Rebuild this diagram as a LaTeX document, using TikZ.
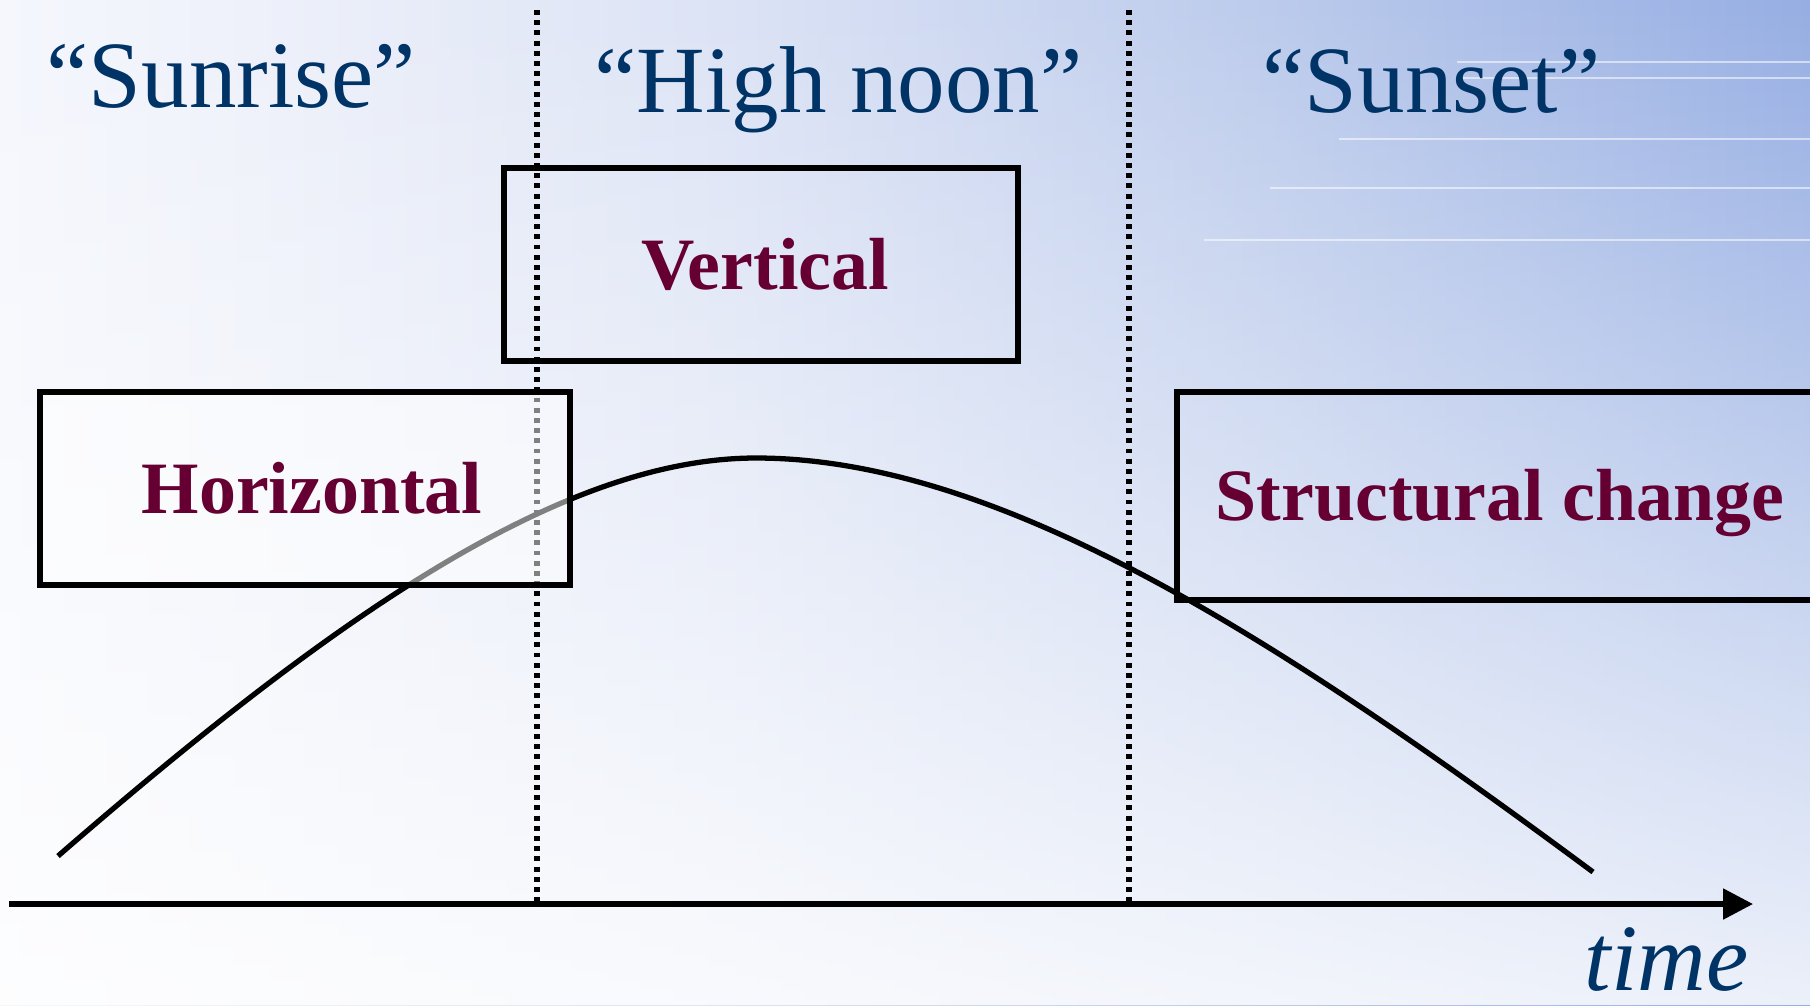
\documentclass[tikz,border=0pt]{standalone}
\usepackage{fontspec}
\setmainfont{Liberation Serif}
\usetikzlibrary{arrows.meta,shadings,fadings}
\definecolor{titleblue}{HTML}{003366}
\definecolor{labelred}{HTML}{660033}
\definecolor{bgA}{HTML}{F5F7FD}
\definecolor{bgB}{HTML}{EEF1FA}
\definecolor{bgC}{HTML}{DCE3F5}
\definecolor{bgD}{HTML}{BCCBEC}
\definecolor{bgE}{HTML}{96AEE3}
\pgfdeclarehorizontalshading{bgh}{100bp}{color(0bp)=(bgA); color(25bp)=(bgA); color(32bp)=(bgB); color(45bp)=(bgC); color(60bp)=(bgD); color(75bp)=(bgE); color(100bp)=(bgE)}
\tikzfading[name=fadedown, top color=transparent!100, middle color=transparent!62, bottom color=transparent!18]
\tikzset{
  title/.style={font=\fontsize{27pt}{30pt}\selectfont, text=titleblue, inner sep=0pt, anchor=base west},
  box/.style={draw=black, line width=1.7pt, font=\fontsize{21pt}{24pt}\selectfont\bfseries,
              text=labelred, text height=14pt, text depth=0pt, inner sep=0pt},
  curve/.style={line width=1.5pt, black},
  divider/.style={line width=1.6pt, black, dash pattern=on 1.4pt off 1.5pt},
  axis/.style={line width=1.5pt, black, -{Triangle[length=8.5pt,width=8.5pt]}},
  streak/.style={white, opacity=0.55, line width=0.4pt}
}
\begin{document}
\begin{tikzpicture}[x=0.01cm,y=-0.01cm]
\useasboundingbox (0,0) rectangle (1810,1005);
\shade[shading=bgh] (0,0) rectangle (1810,1005);
\fill[white, path fading=fadedown] (0,0) rectangle (1810,1005);
% faint streaks
\draw[streak] (1457,62) -- (1810,62);
\draw[streak] (1457,78) -- (1810,78);
\draw[streak] (1339,139) -- (1810,139);
\draw[streak] (1270,188) -- (1810,188);
\draw[streak] (1204,240) -- (1810,240);

% titles
\node[title] (sunrise) at (46,107) {“Sunrise”};
\node[title] (noon) at (594,112) {“High noon”};
\node[title] (sunset) at (1262,112) {“Sunset”};

% vertical box (no fill)
\node[box, minimum width=5.14cm, minimum height=1.93cm] (vert) at (761,264.5) {\hspace*{0.08cm}Vertical};

% curve
\coordinate (cs) at (58,856);
\coordinate (cp) at (756,458);
\coordinate (ce) at (1593,872);
\draw[curve] (cs) .. controls (330,620) and (560,458) .. (cp)
                  .. controls (1000,458) and (1280,640) .. (ce);

% dotted dividers
\coordinate (d1t) at (537,10);
\coordinate (d1b) at (537,904);
\coordinate (d2t) at (1129,10);
\coordinate (d2b) at (1129,904);
\draw[divider] (d1t) -- (d1b);
\draw[divider] (d2t) -- (d2b);

% boxes
\node[box, fill=white, fill opacity=0.5, text opacity=1, minimum width=5.30cm, minimum height=1.93cm] (horiz) at (305,488.5) {\hspace*{0.14cm}Horizontal};
\node[box, minimum width=6.46cm, minimum height=2.08cm] (struct) at (1500,496) {Structural change};

% time axis
\coordinate (a0) at (9,904);
\coordinate (a1) at (1753,904);
\draw[axis] (a0) -- (a1);
\node[font=\fontsize{27pt}{30pt}\selectfont\itshape, text=titleblue, inner sep=0pt, anchor=base west] (time) at (1584,990) {time};
\end{tikzpicture}
\end{document}
